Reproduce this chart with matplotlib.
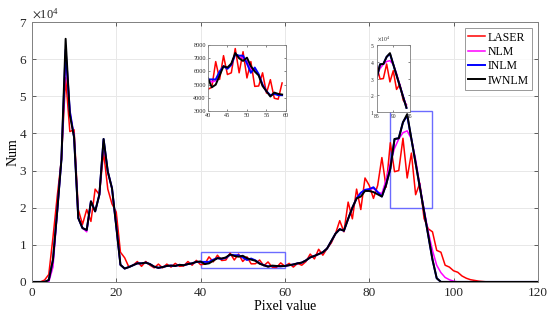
import numpy as np
import matplotlib
matplotlib.use("Agg")
import matplotlib.pyplot as plt
from matplotlib.patches import Rectangle

plt.rcParams['font.family'] = ['Liberation Serif', 'DejaVu Serif']
plt.rcParams['mathtext.fontset'] = 'stix'

# pixel values 0..120, counts in units of 1e4
pix = np.arange(0, 121)

laser = [0, 0, 0, 0.05, 0.2, 1.2, 2.3, 3.3, 5.5, 4.05,
         4.1, 1.95, 1.55, 1.95, 1.63, 2.5, 2.35, 3.5, 2.5, 2.1,
         1.88, 0.8, 0.65, 0.4, 0.45, 0.55, 0.42, 0.55, 0.45, 0.38,
         0.48, 0.38, 0.48, 0.4, 0.5, 0.42, 0.43, 0.55, 0.45, 0.58,
         0.465, 0.48, 0.675, 0.54, 0.72, 0.577, 0.59, 0.774, 0.59, 0.75,
         0.551, 0.675, 0.487, 0.49, 0.59, 0.436, 0.538, 0.397, 0.39, 0.513,
         0.42, 0.5, 0.4, 0.5, 0.45, 0.55, 0.75, 0.62, 0.88, 0.72,
         0.9, 1.05, 1.3, 1.65, 1.35, 2.15, 1.7, 2.5, 1.95, 2.8,
         2.6, 2.25, 2.6, 3.35, 2.55, 3.75, 2.97, 3.0, 3.87, 2.8,
         3.47, 2.35, 2.66, 1.71, 1.43, 1.35, 0.85, 0.8, 0.45, 0.4,
         0.3, 0.26, 0.16, 0.1, 0.06, 0.04, 0.02, 0.01] + [0] * 13

nlm = [0, 0, 0, 0, 0, 0.4, 1.85, 3.3, 6.1, 4.6,
       3.9, 1.72, 1.45, 1.35, 2.17, 1.9, 2.35, 3.8, 2.97, 2.52,
       1.5, 0.46, 0.36, 0.4, 0.45, 0.5, 0.5, 0.52, 0.48, 0.41,
       0.38, 0.4, 0.43, 0.44, 0.43, 0.46, 0.45, 0.48, 0.5, 0.54,
       0.545, 0.52, 0.53, 0.59, 0.64, 0.625, 0.655, 0.735, 0.71, 0.70,
       0.68, 0.615, 0.615, 0.575, 0.495, 0.45, 0.415, 0.435, 0.425, 0.42,
       0.43, 0.45, 0.47, 0.5, 0.52, 0.58, 0.66, 0.7, 0.75, 0.8,
       0.9, 1.1, 1.3, 1.42, 1.38, 1.7, 2.0, 2.25, 2.4, 2.48,
       2.5, 2.52, 2.42, 2.38, 2.75, 3.2, 3.6, 3.85, 4.02, 4.07,
       3.85, 3.3, 2.6, 1.95, 1.35, 0.85, 0.45, 0.25, 0.12, 0.06,
       0.02] + [0] * 20

inlm = [0, 0, 0, 0, 0.05, 0.6, 1.9, 3.3, 6.25, 4.6,
        3.9, 1.72, 1.45, 1.4, 2.17, 1.9, 2.35, 3.85, 2.97, 2.52,
        1.5, 0.46, 0.36, 0.4, 0.45, 0.5, 0.5, 0.52, 0.48, 0.41,
        0.38, 0.4, 0.43, 0.44, 0.43, 0.46, 0.45, 0.48, 0.5, 0.54,
        0.54, 0.54, 0.54, 0.60, 0.64, 0.62, 0.65, 0.73, 0.72, 0.72,
        0.66, 0.59, 0.63, 0.58, 0.50, 0.45, 0.42, 0.43, 0.42, 0.42,
        0.43, 0.45, 0.47, 0.5, 0.52, 0.58, 0.66, 0.7, 0.75, 0.8,
        0.9, 1.1, 1.3, 1.42, 1.38, 1.7, 2.0, 2.25, 2.4, 2.48,
        2.5, 2.55, 2.42, 2.3, 2.62, 3.05, 3.85, 3.87, 4.3, 4.48,
        3.85, 3.2, 2.55, 1.9, 1.25, 0.6, 0.1] + [0] * 24

iwnlm = [0, 0, 0, 0, 0.05, 0.6, 1.9, 3.3, 6.55, 4.5,
         3.9, 1.72, 1.45, 1.4, 2.17, 1.9, 2.35, 3.85, 2.97, 2.52,
         1.5, 0.46, 0.36, 0.4, 0.45, 0.5, 0.5, 0.52, 0.48, 0.41,
         0.38, 0.4, 0.43, 0.44, 0.43, 0.46, 0.45, 0.48, 0.5, 0.54,
         0.55, 0.48, 0.5, 0.57, 0.64, 0.63, 0.66, 0.74, 0.70, 0.68,
         0.705, 0.64, 0.60, 0.57, 0.49, 0.45, 0.41, 0.44, 0.43, 0.425,
         0.43, 0.45, 0.47, 0.5, 0.52, 0.58, 0.66, 0.7, 0.75, 0.8,
         0.9, 1.1, 1.3, 1.42, 1.38, 1.7, 2.0, 2.25, 2.3, 2.45,
         2.45, 2.42, 2.36, 2.3, 2.62, 3.05, 3.85, 3.87, 4.3, 4.52,
         3.85, 3.2, 2.55, 1.9, 1.25, 0.6, 0.1] + [0] * 24

series = [("LASER", np.array(laser) * 1e4, "#ff0000", 1.1),
          ("NLM", np.array(nlm) * 1e4, "#ff00ff", 1.1),
          ("INLM", np.array(inlm) * 1e4, "#0000ff", 1.4),
          ("IWNLM", np.array(iwnlm) * 1e4, "#000000", 1.4)]

fig = plt.figure(figsize=(5.5, 3.2), dpi=100)
ax = fig.add_axes([0.058, 0.119, 0.920, 0.812])

for name, y, c, lw in series:
    ax.plot(pix, y, color=c, lw=lw, label=name)

ax.set_xlim(0, 120)
ax.set_ylim(0, 7e4)
ax.set_xticks(np.arange(0, 121, 20))
ax.set_yticks(np.arange(0, 7.01e4, 1e4))
ax.ticklabel_format(style='sci', axis='y', scilimits=(0, 0), useMathText=True)
ax.yaxis.get_offset_text().set_fontsize(9)
ax.grid(True, color='#e8e8e8', lw=0.7)
ax.set_axisbelow(True)
ax.tick_params(direction='in', top=True, right=True, labelsize=9.5,
               colors='#262626', length=3, width=0.5)
for s in ax.spines.values():
    s.set_color('#808080')
    s.set_linewidth(0.7)
ax.set_xlabel("Pixel value", fontsize=10, labelpad=1)
ax.set_ylabel("Num", fontsize=10, labelpad=-1)

leg = ax.legend(loc='upper right', fontsize=8.5, frameon=True, fancybox=False,
                edgecolor='#808080', handlelength=1.4, borderpad=0.3,
                labelspacing=0.2, handletextpad=0.2, borderaxespad=0.5)
leg.get_frame().set_linewidth(0.7)

# zoom boxes on the main plot
ax.add_patch(Rectangle((40, 3800), 20, 4300, fill=False, ec='#6b6bff', lw=1))
ax.add_patch(Rectangle((85, 20000), 10, 26000, fill=False, ec='#6b6bff', lw=1))

# inset 1 : 40 - 60
ins1 = fig.add_axes([0.378, 0.653, 0.142, 0.206])
for name, y, c, lw in series:
    m = (pix >= 40) & (pix <= 59)
    ins1.plot(pix[m], y[m], color=c, lw=lw)
ins1.set_xlim(40, 60)
ins1.set_ylim(3000, 8000)
ins1.set_xticks([40, 45, 50, 55, 60])
ins1.set_yticks(np.arange(3000, 8001, 1000))
ins1.tick_params(direction='in', top=True, right=True, labelsize=4.5,
                 length=1.5, width=0.4, pad=1.5, colors='#262626')

# inset 2 : 85 - 95
ins2 = fig.add_axes([0.685, 0.650, 0.060, 0.209])
for name, y, c, lw in series:
    m = (pix >= 85) & (pix <= 94)
    ins2.plot(pix[m], y[m], color=c, lw=lw)
ins2.set_xlim(85, 95)
ins2.set_ylim(1e4, 5e4)
ins2.set_xticks([85, 90, 95])
ins2.set_yticks(np.arange(1e4, 5.01e4, 1e4))
ins2.ticklabel_format(style='sci', axis='y', scilimits=(0, 0), useMathText=True)
ins2.yaxis.get_offset_text().set_fontsize(4)
ins2.tick_params(direction='in', top=True, right=True, labelsize=4,
                 length=1.5, width=0.4, pad=1.5, colors='#262626')

for a in (ins1, ins2):
    for s in a.spines.values():
        s.set_color('#808080')
        s.set_linewidth(0.6)

fig.savefig("out.png", dpi=100)
